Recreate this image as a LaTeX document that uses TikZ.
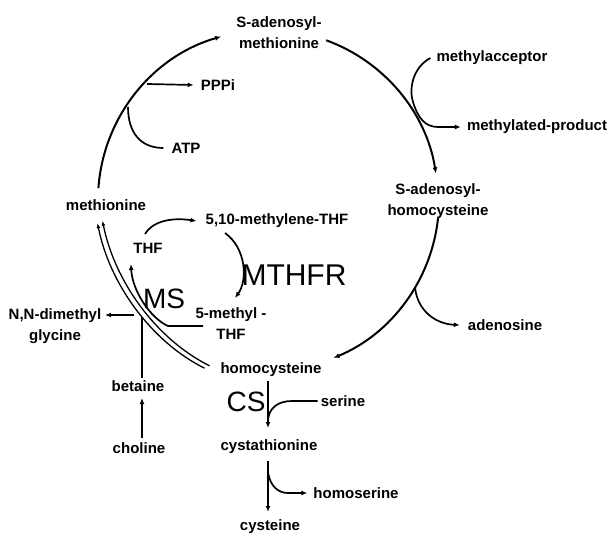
\documentclass[tikz,border=0pt]{standalone}
\usepackage{fontspec}
\setmainfont{Liberation Sans}
\usetikzlibrary{arrows.meta}
\begin{document}
\begin{tikzpicture}[x=1pt,y=-1pt,
  lbl/.style={font=\fontsize{15}{21}\selectfont\bfseries, inner sep=0pt, align=center},
  big/.style={font=\fontsize{28}{30}\selectfont, inner sep=0pt},
  main/.style={line width=2pt},
  br/.style={line width=1.7pt},
  dbl/.style={line width=1.3pt},
  tip/.style={-{Latex[length=6pt,width=5pt]}},
  tipb/.style={-{Latex[length=5pt,width=4pt]}}]
\path[use as bounding box] (0,0) rectangle (613,534);

% labels
\node[lbl] (sam) at (279,33) {S-adenosyl-\\methionine};
\node[lbl] (sah) at (438,201) {S-adenosyl-\\homocysteine};
\node[lbl] (hcy) at (271,370) {homocysteine};
\node[lbl] (met) at (106,205) {methionine};
\node[lbl] (pppi) at (218,85) {PPPi};
\node[lbl] (atp) at (186,148) {ATP};
\node[lbl] (macc) at (492,58) {methylacceptor};
\node[lbl] (mprod) at (537,127) {methylated-product};
\node[lbl] (ado) at (505,325) {adenosine};
\node[lbl] (thf) at (148,248) {THF};
\node[lbl] (mthf10) at (277,221) {5,10-methylene-THF};
\node[lbl] (mthf5) at (231,324) {5-methyl -\\THF};
\node[lbl] (dmg) at (55,326) {N,N-dimethyl\\glycine};
\node[lbl] (bet) at (138,386) {betaine};
\node[lbl] (cho) at (139,448) {choline};
\node[lbl] (ser) at (343,401) {serine};
\node[lbl] (cysta) at (269,447) {cystathionine};
\node[lbl] (hser) at (356,493) {homoserine};
\node[lbl] (cys) at (270,527) {cysteine};
\node[big] (ms) at (164,299) {MS};
\node[font=\fontsize{30}{32}\selectfont, inner sep=0pt] (mthfr) at (294,275) {MTHFR};
\node[big] (cs) at (246,402) {CS};

% main cycle
\coordinate (c) at (268,200);
\draw[main,tip] (c) ++(184:170) arc[start angle=184,end angle=254,radius=170];
\draw[main,tip] (c) ++(290:170) arc[start angle=290,end angle=351,radius=170];
\draw[main,tip] (c) ++(6:171) arc[start angle=6,end angle=67.5,radius=171];

% methionine synthase double line
\draw[dbl,tipb,shift={(-2.5,1.2)}] (207,367) .. controls (153,340) and (112,282) .. (100,222);
\draw[dbl,tipb,shift={(2.5,-1.2)}] (207,367) .. controls (153,340) and (112,282) .. (100,222);

% side branches
\draw[br,tip] (147,84) -- ([xshift=-7]pppi.west);
\draw[br] ([xshift=-8]atp.west) .. controls (140,148) and (128,132) .. (128,107);
\draw[br,tip] ([xshift=-6]macc.west) .. controls (412,68) and (409,90) .. (413,102)
   .. controls (418,118) and (425,127) .. (438,127) -- ([xshift=-6]mprod.west);
\draw[br,tip] (415,287) .. controls (417,310) and (435,324) .. ([xshift=-8]ado.west);

% folate
\draw[br,tip] (145,234) .. controls (152,222) and (170,217) .. ([xshift=-9]mthf10.west);
\draw[br,tip] (225,233) .. controls (246,248) and (248,280) .. (235,298);
\draw[br,tip] (203,326) -- (168,326) .. controls (150,318) and (132,290) .. (131,264);

% betaine
\draw[br,tip] (134,315) -- (105,315);
\draw[br] (142,378) -- (142,317);
\draw[br,tip] (142,438) -- (142,398);

% transsulfuration
\draw[br,tip] (268,381) -- (268,428);
\draw[br] ([xshift=-3]ser.west) -- (292,401) .. controls (278,401) and (269,408) .. (268,420);
\draw[br,tip] (268,461) -- (268,512);
\draw[br,tip] (268,472) .. controls (270,486) and (278,493) .. (288,493) -- ([xshift=-6]hser.west);
\end{tikzpicture}
\end{document}
